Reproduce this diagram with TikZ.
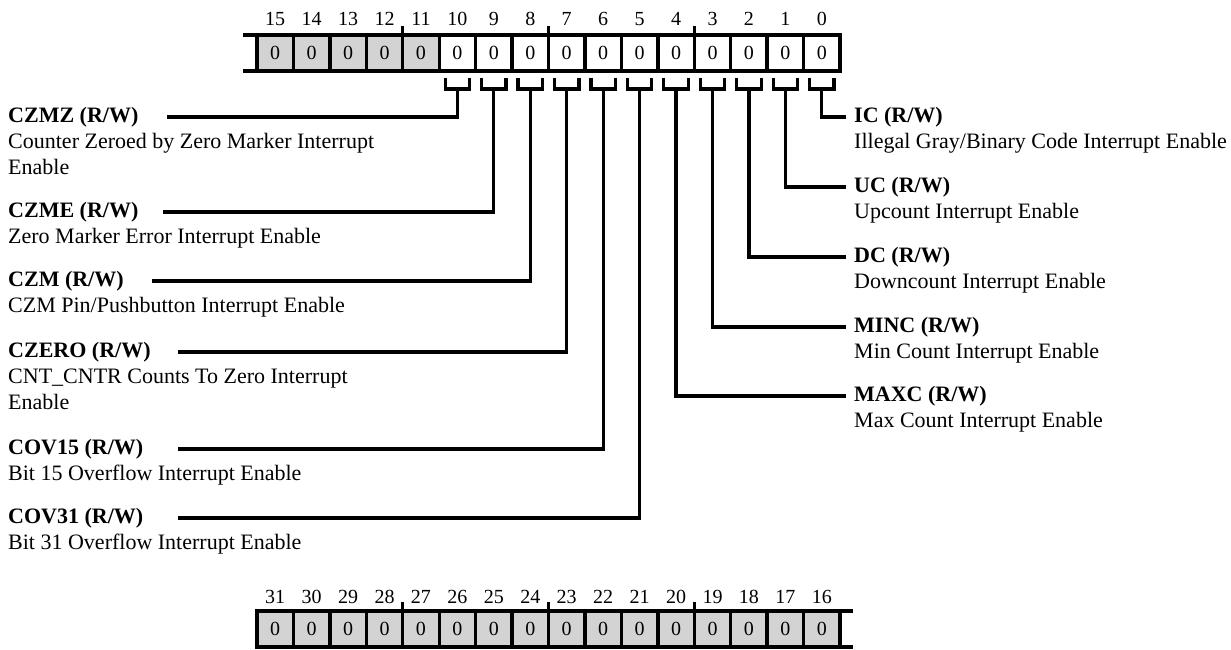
\documentclass[tikz,border=0pt]{standalone}
\usepackage{fontspec}
\setmainfont{Liberation Serif}
\usetikzlibrary{calc}
\definecolor{cellgray}{RGB}{211,211,211}
\begin{document}
\begin{tikzpicture}[x=1pt,y=-1pt,
  cell/.style={draw, line width=3.4pt, minimum width=36.44pt, minimum height=36pt,
    inner sep=0pt, outer sep=0pt, font=\fontsize{20}{24}\selectfont},
  bitlbl/.style={inner sep=0pt, font=\fontsize{20}{24}\selectfont},
  reg/.style={line width=3.4pt},
  leg/.style={line width=3.2pt},
  ttl/.style={anchor=base west, inner sep=0pt, font=\fontsize{22}{26}\selectfont\bfseries},
  dsc/.style={anchor=base west, inner sep=0pt, align=left, font=\fontsize{22}{26}\selectfont},
]
\useasboundingbox (0,0) rectangle (1231,649);

% ---- top register (bits 15..0)
\foreach \b in {0,...,15}{
  \pgfmathsetmacro\xc{257+36.44*(15-\b)+18.22}
  \ifnum\b>10
    \node[cell, fill=cellgray] (c\b) at (\xc,53) {0};
  \else
    \node[cell, fill=white] (c\b) at (\xc,53) {0};
  \fi
  \node[bitlbl] (l\b) at (\xc,19) {\b};
}
\coordinate (tlA) at (243,35);
\coordinate (tlB) at (243,71);
\draw[reg] (c15.north west) -- (tlA);
\draw[reg] (c15.south west) -- (tlB);
\foreach \b in {11,7,3}{
  \draw[reg] (c\b.north west) -- ++(0,-9);
}

% ---- bottom register (bits 31..16)
\foreach \b in {16,...,31}{
  \pgfmathsetmacro\xc{257+36.44*(31-\b)+18.22}
  \node[cell, fill=cellgray] (d\b) at (\xc,629) {0};
  \node[bitlbl] (m\b) at (\xc,597) {\b};
}
\coordinate (brA) at (853,611);
\coordinate (brB) at (853,647);
\draw[reg] (d16.north east) -- (brA);
\draw[reg] (d16.south east) -- (brB);
\foreach \b in {27,23,19}{
  \draw[reg] (d\b.north west) -- ++(0,-9);
}

% ---- brackets under bits 10..0
\foreach \b in {0,...,10}{
  \draw[leg] ($(c\b.south west)+(6,7)$) -- ++(0,11) -| ($(c\b.south east)+(-6,7)$);
  \coordinate (s\b) at ($(c\b.south)+(0,18)$);
}

% ---- left field descriptions
\node[ttl] (tCZMZ) at (8,122) {CZMZ (R/W)};
\node[dsc] (dCZMZ) at (8,174) {Counter Zeroed by Zero Marker Interrupt\\Enable};
\coordinate (eCZMZ) at (167,117);
\draw[leg] (s10) |- (eCZMZ);

\node[ttl] (tCZME) at (8,217) {CZME (R/W)};
\node[dsc] (dCZME) at (8,243) {Zero Marker Error Interrupt Enable};
\coordinate (eCZME) at (163,212);
\draw[leg] (s9) |- (eCZME);

\node[ttl] (tCZM) at (8,286) {CZM (R/W)};
\node[dsc] (dCZM) at (8,312) {CZM Pin/Pushbutton Interrupt Enable};
\coordinate (eCZM) at (152,281);
\draw[leg] (s8) |- (eCZM);

\node[ttl] (tCZERO) at (8,357) {CZERO (R/W)};
\node[dsc] (dCZERO) at (8,409) {CNT\_CNTR Counts To Zero Interrupt\\Enable};
\coordinate (eCZERO) at (178,352);
\draw[leg] (s7) |- (eCZERO);

\node[ttl] (tCOV15) at (8,454) {COV15 (R/W)};
\node[dsc] (dCOV15) at (8,480) {Bit 15 Overflow Interrupt Enable};
\coordinate (eCOV15) at (178,449);
\draw[leg] (s6) |- (eCOV15);

\node[ttl] (tCOV31) at (8,523) {COV31 (R/W)};
\node[dsc] (dCOV31) at (8,549) {Bit 31 Overflow Interrupt Enable};
\coordinate (eCOV31) at (178,518);
\draw[leg] (s5) |- (eCOV31);

% ---- right field descriptions
\node[ttl] (tIC) at (854,122) {IC (R/W)};
\node[dsc] (dIC) at (854,148) {Illegal Gray/Binary Code Interrupt Enable};
\coordinate (eIC) at (846,117);
\draw[leg] (s0) |- (eIC);

\node[ttl] (tUC) at (854,192) {UC (R/W)};
\node[dsc] (dUC) at (854,218) {Upcount Interrupt Enable};
\coordinate (eUC) at (846,187);
\draw[leg] (s1) |- (eUC);

\node[ttl] (tDC) at (854,262) {DC (R/W)};
\node[dsc] (dDC) at (854,288) {Downcount Interrupt Enable};
\coordinate (eDC) at (846,257);
\draw[leg] (s2) |- (eDC);

\node[ttl] (tMINC) at (854,332) {MINC (R/W)};
\node[dsc] (dMINC) at (854,358) {Min Count Interrupt Enable};
\coordinate (eMINC) at (846,327);
\draw[leg] (s3) |- (eMINC);

\node[ttl] (tMAXC) at (854,401) {MAXC (R/W)};
\node[dsc] (dMAXC) at (854,427) {Max Count Interrupt Enable};
\coordinate (eMAXC) at (846,396);
\draw[leg] (s4) |- (eMAXC);
\end{tikzpicture}
\end{document}
